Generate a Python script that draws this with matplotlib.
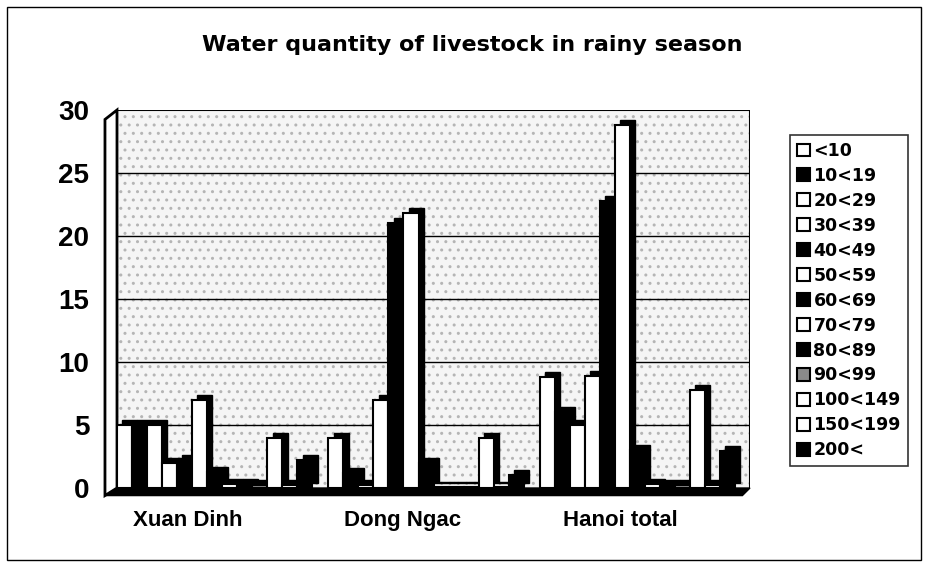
import numpy as np
import matplotlib
matplotlib.use("Agg")
import matplotlib.pyplot as plt
from matplotlib.patches import Rectangle, Polygon, Patch

# data
places = ["Xuan Dinh", "Dong Ngac", "Hanoi total"]
bands = ["<10", "10<19", "20<29", "30<39", "40<49", "50<59", "60<69",
         "70<79", "80<89", "90<99", "100<149", "150<199", "200<"]
values = [
    [5.0, 4.0, 8.8],    # <10
    [5.0, 1.2, 6.0],    # 10<19
    [5.0, 0.2, 5.0],    # 20<29
    [2.0, 7.0, 8.9],    # 30<39
    [2.2, 21.0, 22.8],  # 40<49
    [7.0, 21.8, 28.8],  # 50<59
    [1.3, 2.0, 3.0],    # 60<69
    [0.3, 0.1, 0.3],    # 70<79
    [0.3, 0.1, 0.2],    # 80<89
    [0.2, 0.1, 0.2],    # 90<99
    [4.0, 4.0, 7.8],    # 100<149
    [0.2, 0.1, 0.2],    # 150<199
    [2.2, 1.0, 2.9],    # 200<
]
fills = ["white", "black", "white", "white", "black", "white", "black",
         "white", "black", "#8a8a8a", "white", "white", "black"]
yticks = [0, 5, 10, 15, 20, 25, 30]

plt.rcParams["font.family"] = ["Liberation Sans", "DejaVu Sans"]

fig = plt.figure(figsize=(9.25, 5.67), dpi=100)
W, H = 925, 567
ax = fig.add_axes([117 / W, 1 - 488 / H, (750 - 117) / W, (488 - 110) / H])

# outer chart frame
fig.patches.append(Rectangle((7 / W, 1 - 560 / H), 914 / W, 553 / H,
                             transform=fig.transFigure, fill=False,
                             edgecolor="black", lw=1.0))

ax.set_xlim(-0.464, 2.535)
ax.set_ylim(0, 30)

# stippled back wall
ax.add_patch(Rectangle((0, 0), 1, 1, transform=ax.transAxes,
                       facecolor="#f5f5f5", edgecolor="#b5b5b5", hatch="..",
                       lw=0, zorder=0))
for y in yticks[1:-1]:
    ax.axhline(y, color="black", lw=1.0, zorder=1)
for s in ax.spines.values():
    s.set_visible(False)
ax.axhline(30, color="black", lw=1.5, zorder=1)
ax.axvline(2.535, color="black", lw=1.5, zorder=1)

# 3d-ish side wall and floor
ax.add_patch(Polygon([(-0.019, -0.02), (0, 0), (0, 1), (-0.019, 0.975)],
                     closed=True, transform=ax.transAxes, facecolor="white",
                     edgecolor="black", lw=2, clip_on=False, zorder=2))
ax.add_patch(Polygon([(-0.019, -0.02), (0.988, -0.02), (1.0, 0), (0, 0)],
                     closed=True, transform=ax.transAxes, facecolor="black",
                     edgecolor="black", lw=1, clip_on=False, zorder=2))

x = np.arange(len(places))
w = 0.0711
dx, dy = 0.024, 0.4
for i, (band, vals) in enumerate(zip(bands, values)):
    pos = x + (i - 6) * w
    vals = np.array(vals)
    # depth face
    ax.bar(pos + dx, vals, width=w, bottom=dy, align="center",
           color="black", edgecolor="black", lw=1, zorder=3)
    ax.bar(pos, vals, width=w, align="center", color=fills[i],
           edgecolor="black", lw=1.5, zorder=4)

ax.set_yticks(yticks)
ax.set_yticklabels([str(t) for t in yticks], fontsize=20, fontweight="bold")
ax.tick_params(axis="y", length=0, pad=20)
ax.set_xticks(x + np.array([-0.13, -0.11, -0.08]))
ax.set_xticklabels(places, fontsize=16, fontweight="bold")
ax.tick_params(axis="x", length=0, pad=16)

fig.text(472 / W, 1 - 45 / H, "Water quantity of livestock in rainy season",
         ha="center", va="center", fontsize=16, fontweight="bold",
         family="DejaVu Sans")

handles = [Patch(facecolor=f, edgecolor="black", lw=1.5) for f in fills]
leg = fig.legend(handles, bands, loc="upper left",
                 bbox_to_anchor=(790 / W, 1 - 135 / H),
                 prop={"size": 12.5, "weight": "bold", "family": "DejaVu Sans"},
                 frameon=True, fancybox=False, edgecolor="black",
                 handlelength=0.75, handleheight=0.75, handletextpad=0.2,
                 labelspacing=0.4, borderpad=0.4, borderaxespad=0)
leg.get_frame().set_linewidth(1.2)

fig.savefig("out.png", dpi=100)
